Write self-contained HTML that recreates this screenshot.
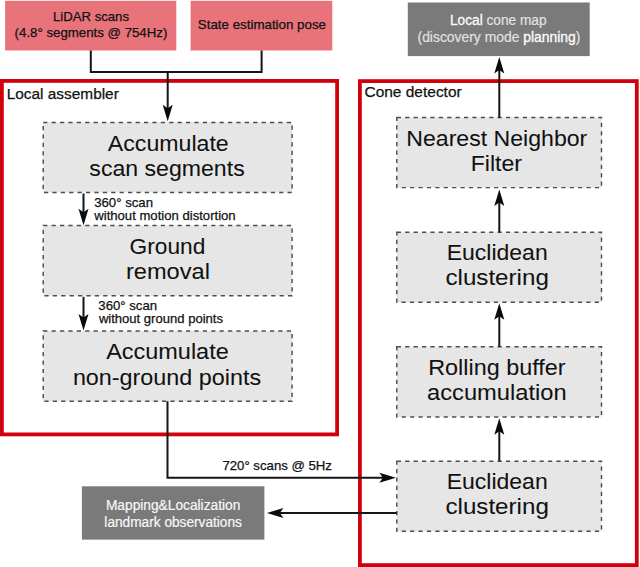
<!DOCTYPE html>
<html><head><meta charset="utf-8">
<style>
html,body{margin:0;padding:0;background:#fff;width:640px;height:567px;overflow:hidden}
svg{display:block}
text{font-family:"Liberation Sans",sans-serif}
.big{font-size:22.4px;fill:#111;stroke:#111;stroke-width:0.05px}
.sm{font-size:13.2px;fill:#111;stroke:#111;stroke-width:0.25px}
.hd{font-size:15.4px;fill:#111;stroke:#111;stroke-width:0.25px}
.wt{font-size:13.8px;fill:#f7f7f7;stroke:#f7f7f7;stroke-width:0.2px}
.dm{fill:#e4e4e4;stroke:#e4e4e4;stroke-width:0.15px}
.br{fill:#fcfcfc;stroke:#fcfcfc;stroke-width:0.3px}
</style></head>
<body>
<svg width="640" height="567" viewBox="0 0 640 567">
<defs>
<path id="ah" d="M0 0 L-16.5 -5 L-13 0 L-16.5 5 Z" fill="#0a0a0a"/>
</defs>
<rect x="5.1" y="0.8" width="171.2" height="49.7" fill="#e8737a"/>
<rect x="190.6" y="0.8" width="141.7" height="49.7" fill="#e8737a"/>
<rect x="407.8" y="2.5" width="181.9" height="53.6" fill="#7a7a7a"/>
<rect x="81.9" y="486.3" width="182.5" height="53.3" fill="#7a7a7a"/>
<rect x="1.9" y="80.9" width="335.2" height="353.5" fill="none" stroke="#d0000d" stroke-width="3.8"/>
<rect x="359.9" y="81.1" width="276.9" height="484" fill="none" stroke="#d0000d" stroke-width="3.8"/>
<g fill="#e6e6e6" stroke="#4d4d4d" stroke-width="1.45" stroke-dasharray="4.2 4.2">
<rect x="43.2" y="122.4" width="248.9" height="70"/>
<rect x="43.2" y="225.4" width="248.9" height="70.4"/>
<rect x="43.2" y="330.9" width="248.9" height="70.4"/>
<rect x="396.8" y="117.5" width="204.7" height="70.1"/>
<rect x="396.8" y="232.3" width="204.7" height="69.9"/>
<rect x="396.8" y="346.8" width="204.7" height="70.1"/>
<rect x="396.8" y="461.2" width="204.7" height="70.1"/>
</g>
<g fill="none" stroke="#151515" stroke-width="2">
<polyline points="90.8,50.5 90.8,72 261.6,72 261.6,50.5"/>
<line x1="167.7" y1="72" x2="167.7" y2="110"/>
<line x1="83.5" y1="193.5" x2="83.5" y2="214"/>
<line x1="83.5" y1="296.8" x2="83.5" y2="319"/>
<polyline points="167.5,401.3 167.5,477.7 385,477.7"/>
<line x1="396.8" y1="513" x2="278" y2="513"/>
<line x1="499.3" y1="461.2" x2="499.3" y2="428"/>
<line x1="499.3" y1="346.8" x2="499.3" y2="315"/>
<line x1="499.3" y1="232.3" x2="499.3" y2="201"/>
<line x1="499.3" y1="117.5" x2="499.3" y2="68"/>
</g>
<use href="#ah" transform="translate(167.7,121.3) rotate(90)"/>
<use href="#ah" transform="translate(83.5,225.2) rotate(90)"/>
<use href="#ah" transform="translate(83.5,330.4) rotate(90)"/>
<use href="#ah" transform="translate(395.9,477.7)"/>
<use href="#ah" transform="translate(266.9,513) rotate(180)"/>
<use href="#ah" transform="translate(499.3,418.2) rotate(-90)"/>
<use href="#ah" transform="translate(499.3,303.2) rotate(-90)"/>
<use href="#ah" transform="translate(499.3,189.4) rotate(-90)"/>
<use href="#ah" transform="translate(499.3,57) rotate(-90)"/>

<text class="sm" x="53.00" y="20.5" textLength="75.98" lengthAdjust="spacingAndGlyphs">LiDAR scans</text>
<text class="sm" x="14.63" y="37.2" textLength="152.71" lengthAdjust="spacingAndGlyphs">(4.8° segments @ 754Hz)</text>
<text class="sm" x="197.83" y="28.8" textLength="128.19" lengthAdjust="spacingAndGlyphs">State estimation pose</text>
<text class="wt dm" x="450.03" y="25.3" textLength="96.51" lengthAdjust="spacingAndGlyphs"><tspan class="br">Local</tspan> cone map</text>
<text class="wt dm" x="417.53" y="42.0" textLength="162.82" lengthAdjust="spacingAndGlyphs">(discovery mode <tspan class="br">planning</tspan>)</text>
<text class="wt" x="105.93" y="509.9" textLength="134.39" lengthAdjust="spacingAndGlyphs">Mapping&amp;Localization</text>
<text class="wt" x="104.36" y="527.1" textLength="137.56" lengthAdjust="spacingAndGlyphs">landmark observations</text>
<text class="hd" x="6.68" y="98.6" textLength="112.15" lengthAdjust="spacingAndGlyphs">Local assembler</text>
<text class="hd" x="364.47" y="97.0" textLength="97.21" lengthAdjust="spacingAndGlyphs">Cone detector</text>
<text class="big" x="107.82" y="151.0" textLength="120.88" lengthAdjust="spacingAndGlyphs">Accumulate</text>
<text class="big" x="89.36" y="175.6" textLength="155.32" lengthAdjust="spacingAndGlyphs">scan segments</text>
<text class="big" x="129.55" y="253.6" textLength="75.79" lengthAdjust="spacingAndGlyphs">Ground</text>
<text class="big" x="125.93" y="278.8" textLength="84.02" lengthAdjust="spacingAndGlyphs">removal</text>
<text class="big" x="106.16" y="359.4" textLength="122.55" lengthAdjust="spacingAndGlyphs">Accumulate</text>
<text class="big" x="72.90" y="385.0" textLength="188.20" lengthAdjust="spacingAndGlyphs">non-ground points</text>
<text class="big" x="406.31" y="145.6" textLength="181.00" lengthAdjust="spacingAndGlyphs">Nearest Neighbor</text>
<text class="big" x="470.72" y="170.6" textLength="51.25" lengthAdjust="spacingAndGlyphs">Filter</text>
<text class="big" x="446.75" y="260.3" textLength="100.92" lengthAdjust="spacingAndGlyphs">Euclidean</text>
<text class="big" x="445.48" y="285.0" textLength="103.35" lengthAdjust="spacingAndGlyphs">clustering</text>
<text class="big" x="428.18" y="375.0" textLength="137.35" lengthAdjust="spacingAndGlyphs">Rolling buffer</text>
<text class="big" x="427.12" y="399.6" textLength="139.48" lengthAdjust="spacingAndGlyphs">accumulation</text>
<text class="big" x="446.75" y="489.4" textLength="100.92" lengthAdjust="spacingAndGlyphs">Euclidean</text>
<text class="big" x="445.48" y="514.2" textLength="103.35" lengthAdjust="spacingAndGlyphs">clustering</text>
<text class="sm" x="94.21" y="207.2">360° scan</text>
<text class="sm" x="94.28" y="219.5" textLength="141.40" lengthAdjust="spacingAndGlyphs">without motion distortion</text>
<text class="sm" x="98.32" y="310.4">360° scan</text>
<text class="sm" x="98.89" y="322.6" textLength="124.10" lengthAdjust="spacingAndGlyphs">without ground points</text>
<text class="sm" x="222.45" y="470.0" textLength="109.52" lengthAdjust="spacingAndGlyphs">720° scans @ 5Hz</text>
</svg>
</body></html>
